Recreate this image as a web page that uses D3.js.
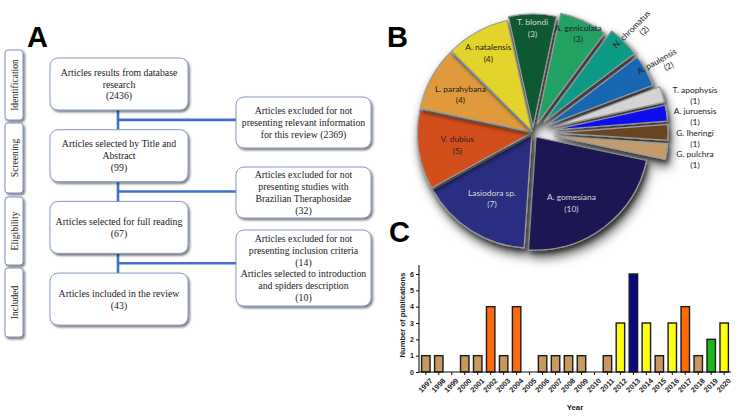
<!DOCTYPE html>
<html>
<head>
<meta charset="utf-8">
<script src="https://cdn.jsdelivr.net/npm/d3@7"></script>
<style>
  html, body { margin: 0; padding: 0; background: #fff; }
  svg { display: block; }
</style>
</head>
<body>
<svg id="fig" width="750" height="417"></svg>
<script>
// ---------- DATA ----------
const stages = ["Identification", "Screening", "Eligibility", "Included"];
const mainBoxes = [
  ["Articles results from database", "research", "(2436)"],
  ["Articles selected by Title and", "Abstract", "(99)"],
  ["Articles selected for full reading", "(67)"],
  ["Articles included in the review", "(43)"]
];
const sideBoxes = [
  ["Articles excluded for not", "presenting relevant information", "for this review (2369)"],
  ["Articles excluded for not", "presenting studies with", "Brazilian Theraphosidae", "(32)"],
  ["Articles excluded for not", "presenting inclusion criteria", "(14)",
   "Articles selected to introduction", "and spiders description", "(10)"]
];

const species = ["A. gomesiana", "Lasiodora sp.", "V. dubius", "L. parahybana", "A. natalensis",
  "T. blondi", "A. geniculata", "N. chromatus", "A. paulensis", "T. apophysis",
  "A. juruensis", "G. Iheringi", "G. pulchra"];
const speciesCounts = [10, 7, 5, 4, 4, 3, 3, 2, 2, 1, 1, 1, 1];

const years = ["1997","1998","1999","2000","2001","2002","2003","2004","2005","2006","2007","2008",
  "2009","2010","2011","2012","2013","2014","2015","2016","2017","2018","2019","2020"];
const publications = [1,1,0,1,1,4,1,4,0,1,1,1,1,0,1,3,6,3,1,3,4,1,2,3];
const yTicks = [0,1,2,3,4,5,6];

// ---------- SETUP ----------
const svg = d3.select("#fig");
const defs = svg.append("defs");
function shadow(id, dx, dy, sd, op) {
  const f = defs.append("filter").attr("id", id)
    .attr("x", "-30%").attr("y", "-30%").attr("width", "160%").attr("height", "160%");
  f.append("feDropShadow").attr("dx", dx).attr("dy", dy).attr("stdDeviation", sd)
    .attr("flood-color", "#000").attr("flood-opacity", op);
}
shadow("boxShadow", 1.5, 1.8, 0.9, 0.55);
shadow("sliceShadow", 2, 3, 2.2, 0.55);
shadow("pieShadow", 2, 6, 5, 0.6);

const serif = "'Liberation Serif', 'Times New Roman', serif";
const sans = "'Liberation Sans', Arial, sans-serif";

// Panel letters
[["A", 27, 47], ["B", 387, 47], ["C", 389, 242]].forEach(([t, x, y]) => {
  svg.append("text").attr("x", x).attr("y", y).text(t)
    .attr("font-family", sans).attr("font-weight", "bold").attr("font-size", 29).attr("fill", "#000");
});

// ---------- PANEL A : flow diagram ----------
const gA = svg.append("g");
const stageY = [50, 123, 197, 268], stageH = [70, 70, 68, 69];
const lineColor = "#3f6fcf";

const mainX = 50, mainW = 138, mainH = 52;
const mainY = mainBoxes.map((d, i) => 58 + i * 71.7);
const sideX = 236, sideW = 135;
const sideY = [97, 167, 230], sideH = [51, 51, 76];
const joinX = mainX + mainW / 2 - 1;
for (let i = 0; i < 3; i++) {
  const y0 = mainY[i] + mainH, y1 = mainY[i + 1];
  gA.append("line").attr("x1", joinX).attr("x2", joinX).attr("y1", y0).attr("y2", y1)
    .attr("stroke", lineColor).attr("stroke-width", 2.6);
  const hy = (y0 + y1) / 2;
  gA.append("line").attr("x1", joinX).attr("x2", sideX).attr("y1", hy).attr("y2", hy)
    .attr("stroke", lineColor).attr("stroke-width", 2.6);
}

stages.forEach((s, i) => {
  gA.append("rect").attr("x", 5).attr("y", stageY[i]).attr("width", 18).attr("height", stageH[i])
    .attr("rx", 3).attr("fill", "#fff").attr("stroke", "#6d86b5").attr("stroke-width", 0.9)
    .attr("filter", "url(#boxShadow)");
  gA.append("text").attr("transform", `translate(${14.5},${stageY[i] + stageH[i] / 2}) rotate(-90)`)
    .attr("text-anchor", "middle").attr("dominant-baseline", "central")
    .attr("font-family", serif).attr("font-size", 9.6).attr("fill", "#222").text(s);
});

function drawBox(x, y, w, h, lines) {
  gA.append("rect").attr("x", x).attr("y", y).attr("width", w).attr("height", h)
    .attr("rx", 8).attr("fill", "#fff").attr("stroke", "#7890c0").attr("stroke-width", 0.9)
    .attr("filter", "url(#boxShadow)");
  const lh = 11.9, cy = y + h / 2;
  lines.forEach((t, j) => {
    gA.append("text").attr("x", x + w / 2).attr("y", cy + (j - (lines.length - 1) / 2) * lh)
      .attr("text-anchor", "middle").attr("dominant-baseline", "central")
      .attr("font-family", serif).attr("font-size", 9.8).attr("fill", "#222").text(t);
  });
}
mainBoxes.forEach((lines, i) => drawBox(mainX, mainY[i], mainW, mainH, lines));
sideBoxes.forEach((lines, i) => drawBox(sideX, sideY[i], sideW, sideH[i], lines));

// ---------- PANEL B : exploded pie ----------
const cx = 533, cy = 133, R = 113;
const pieData = species.map((s, i) => ({ name: s, value: speciesCounts[i] }));
const pie = d3.pie().sort(null).value(d => d.value)
  .startAngle(102 * Math.PI / 180).endAngle(102 * Math.PI / 180 + 2 * Math.PI);
const arcs = pie(pieData);
const sliceColor = d3.scaleOrdinal().domain(species).range([
  "#1b1853", "#2c2e80", "#d2501f", "#e09a3a", "#e2d42c", "#0b5a32", "#22a262",
  "#0b9a86", "#1666b2", "#d3d3d3", "#0c0cee", "#6a4520", "#c49b6c"]);
const lightText = new Set(["A. gomesiana", "Lasiodora sp.", "T. blondi"]);
const explodeBy = v => v >= 4 ? 2.5 : v === 3 ? 6 : v === 2 ? 16 : 22;
const arc = d3.arc().innerRadius(0).outerRadius(R);

const gB = svg.append("g").attr("transform", `translate(${cx},${cy})`);
const gSlices = gB.append("g").attr("filter", "url(#pieShadow)");
arcs.forEach(a => {
  const mid = (a.startAngle + a.endAngle) / 2;
  let e = explodeBy(a.data.value);
  if (a.data.name === "A. geniculata") e = 10;
  if (a.data.name === "A. gomesiana") e = 5;
  a.ox = e * Math.sin(mid); a.oy = -e * Math.cos(mid); a.mid = mid; a.e = e;
  gSlices.append("path").attr("d", arc(a))
    .attr("transform", `translate(${a.ox},${a.oy})`)
    .attr("fill", sliceColor(a.data.name))
    .attr("stroke", "#9a9a9a").attr("stroke-width", 1.2).attr("stroke-linejoin", "round")
    .attr("filter", "url(#sliceShadow)");
});

const pieFont = "Lato, 'Open Sans', sans-serif";
let smallIdx = 0;
arcs.forEach(a => {
  const v = a.data.value, name = a.data.name;
  const col = lightText.has(name) ? "#d8d8d8" : "#222";
  if (v >= 3) {
    let lr = v >= 5 ? 74 : v === 4 ? (name === "L. parahybana" ? 80 : 90) : 100;
    let ang = a.mid;
    if (name === "A. gomesiana") ang += 8 * Math.PI / 180;
    const x = (lr + a.e) * Math.sin(ang), y = -(lr + a.e) * Math.cos(ang);
    const t = gB.append("text").attr("text-anchor", "middle").attr("font-family", pieFont)
      .attr("font-size", 8.4).attr("fill", col);
    t.append("tspan").attr("x", x).attr("y", y - 2).text(name);
    t.append("tspan").attr("x", x).attr("y", y + 9.5).text(`(${v})`);
  } else if (v === 2) {
    const lr = 143;
    const x = lr * Math.sin(a.mid), y = -lr * Math.cos(a.mid);
    const rot = a.mid * 180 / Math.PI - 90;
    const t = gB.append("text").attr("transform", `translate(${x},${y}) rotate(${rot})`)
      .attr("text-anchor", "middle").attr("font-family", pieFont)
      .attr("font-size", 8.4).attr("fill", col);
    t.append("tspan").attr("x", 0).attr("y", 0).text(name);
    t.append("tspan").attr("x", 8).attr("y", 10).text(`(${v})`);
  } else {
    const x = 162, y = -38 + smallIdx * 21.3;
    smallIdx++;
    const t = gB.append("text").attr("text-anchor", "middle").attr("font-family", pieFont)
      .attr("font-size", 8.4).attr("fill", col);
    t.append("tspan").attr("x", x).attr("y", y - 2).text(name);
    t.append("tspan").attr("x", x).attr("y", y + 9).text(`(${v})`);
  }
});

// ---------- PANEL C : bar chart ----------
const x = d3.scaleBand().domain(years).range([419, 731]).paddingInner(0.35).paddingOuter(0.2);
const y = d3.scaleLinear().domain([0, 6]).range([372, 274]);
const barColor = d3.scaleOrdinal().domain([1, 2, 3, 4, 6])
  .range(["#c8995e", "#18b818", "#ffff10", "#ff6a08", "#0a0a80"]);
const gC = svg.append("g");

gC.selectAll("rect.bar").data(years).join("rect").attr("class", "bar")
  .attr("x", d => x(d)).attr("width", x.bandwidth())
  .attr("y", (d, i) => y(publications[i]))
  .attr("height", (d, i) => y(0) - y(publications[i]))
  .attr("fill", (d, i) => barColor(publications[i]))
  .attr("stroke", "#1a1a1a").attr("stroke-width", 1.4);

const yAxis = gC.append("g").attr("transform", "translate(419,0)")
  .call(d3.axisLeft(y).tickValues(yTicks).tickSize(3).tickPadding(2).tickFormat(d3.format("d")));
yAxis.select(".domain").attr("d", `M0,265V372`).attr("stroke", "#111").attr("stroke-width", 1.1);
const xAxis = gC.append("g").attr("transform", "translate(0,372)")
  .call(d3.axisBottom(x).tickSize(3).tickPadding(3));
xAxis.select(".domain").attr("d", "M419,0H731").attr("stroke", "#111").attr("stroke-width", 1.1);
[yAxis, xAxis].forEach(g => {
  g.selectAll("text").attr("font-family", sans).attr("font-weight", "bold")
    .attr("font-size", 7).attr("fill", "#222");
  g.selectAll(".tick line").attr("stroke", "#111");
});
xAxis.selectAll("text").attr("text-anchor", "end").attr("dy", 0).attr("font-size", 7.4)
  .attr("transform", "translate(3,5) rotate(-45)");

gC.append("text").attr("x", 575).attr("y", 410).attr("text-anchor", "middle")
  .attr("font-family", sans).attr("font-weight", "bold").attr("font-size", 7.8)
  .attr("fill", "#222").text("Year");
gC.append("text").attr("transform", "translate(405,315) rotate(-90)").attr("text-anchor", "middle")
  .attr("font-family", sans).attr("font-weight", "bold").attr("font-size", 7.6)
  .attr("fill", "#222").text("Number of publications");
</script>
</body>
</html>
